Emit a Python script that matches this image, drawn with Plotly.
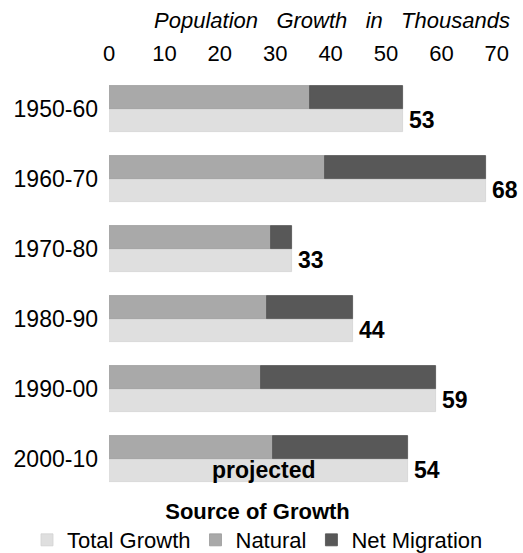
import plotly.graph_objects as go

# Decades and population growth (thousands)
periods = ["1950-60", "1960-70", "1970-80", "1980-90", "1990-00", "2000-10"]
total_growth = [53, 68, 33, 44, 59, 54]
natural = [36.3, 39.0, 29.2, 28.6, 27.4, 29.6]
net_migration = [16.7, 29.0, 3.8, 15.4, 31.6, 24.4]
x_ticks = [0, 10, 20, 30, 40, 50, 60, 70]

FONT = "Arial"
C_TOTAL = "#dfdfdf"
C_NATURAL = "#a9a9a9"
C_MIGR = "#585858"
BAR_W = 0.325

fig = go.Figure()

fig.add_trace(go.Bar(
    name="Total Growth", orientation="h", y=periods, x=total_growth,
    offset=0, width=BAR_W, marker=dict(color=C_TOTAL, line=dict(width=0.8, color="#d2d2d2")),
    hoverinfo="x+y",
))
fig.add_trace(go.Bar(
    name="Natural", orientation="h", y=periods, x=natural,
    offset=-BAR_W, width=BAR_W, marker=dict(color=C_NATURAL, line=dict(width=0.8, color="#9a9a9a")),
    hoverinfo="x+y",
))
fig.add_trace(go.Bar(
    name="Net Migration", orientation="h", y=periods, x=net_migration, base=natural,
    offset=-BAR_W, width=BAR_W, marker=dict(color=C_MIGR, line=dict(width=0.8, color="#505050")),
    hoverinfo="x+y",
))

# Total value labels to the right of each total bar
for p, t in zip(periods, total_growth):
    fig.add_annotation(
        x=t, y=p, text=f"<b>{t}</b>", showarrow=False, xanchor="left", yanchor="middle",
        xshift=4, yshift=-11.5, font=dict(family=FONT, size=23, color="#000000"),
    )

# Projected marker inside the last total bar
fig.add_annotation(
    x=total_growth[-1] / 2, y=periods[-1], text="<b>projected</b>", showarrow=False,
    xanchor="center", yanchor="middle", xshift=5, yshift=-11.5,
    font=dict(family=FONT, size=23, color="#000000"),
)

gap = "\u00a0\u00a0\u00a0"
fig.update_layout(
    width=523, height=553,
    margin=dict(l=109, r=4, t=70, b=63, autoexpand=False),
    paper_bgcolor="white", plot_bgcolor="white",
    barmode="overlay", bargap=0,
    font=dict(family=FONT, size=22, color="#000000"),
    title=dict(
        text=f"<i>Population{gap}Growth{gap}in{gap}Thousands</i>",
        xref="paper", x=0.978, xanchor="right",
        yref="container", y=1 - 20 / 553, yanchor="middle",
        font=dict(family=FONT, size=22, color="#000000"),
    ),
    xaxis=dict(
        side="top", range=[0, 74], tickvals=x_ticks, ticktext=[str(v) for v in x_ticks],
        showgrid=False, zeroline=False, showline=False, ticks="",
        ticklabelstandoff=4, tickfont=dict(family=FONT, size=22),
    ),
    yaxis=dict(
        type="category", categoryorder="array", categoryarray=periods,
        range=[5.443, -0.557], showgrid=False, zeroline=False, showline=False,
        ticks="", ticklabelstandoff=10, tickfont=dict(family=FONT, size=23),
    ),
    showlegend=True,
    legend=dict(
        orientation="h", x=-0.2, xanchor="left", y=-0.001, yanchor="top",
        traceorder="normal",
        title=dict(text="<b>Source of Growth</b>", side="top center",
                   font=dict(family=FONT, size=22)),
        font=dict(family=FONT, size=22), itemclick=False, itemdoubleclick=False,
    ),
)

fig.write_html("out.html")
